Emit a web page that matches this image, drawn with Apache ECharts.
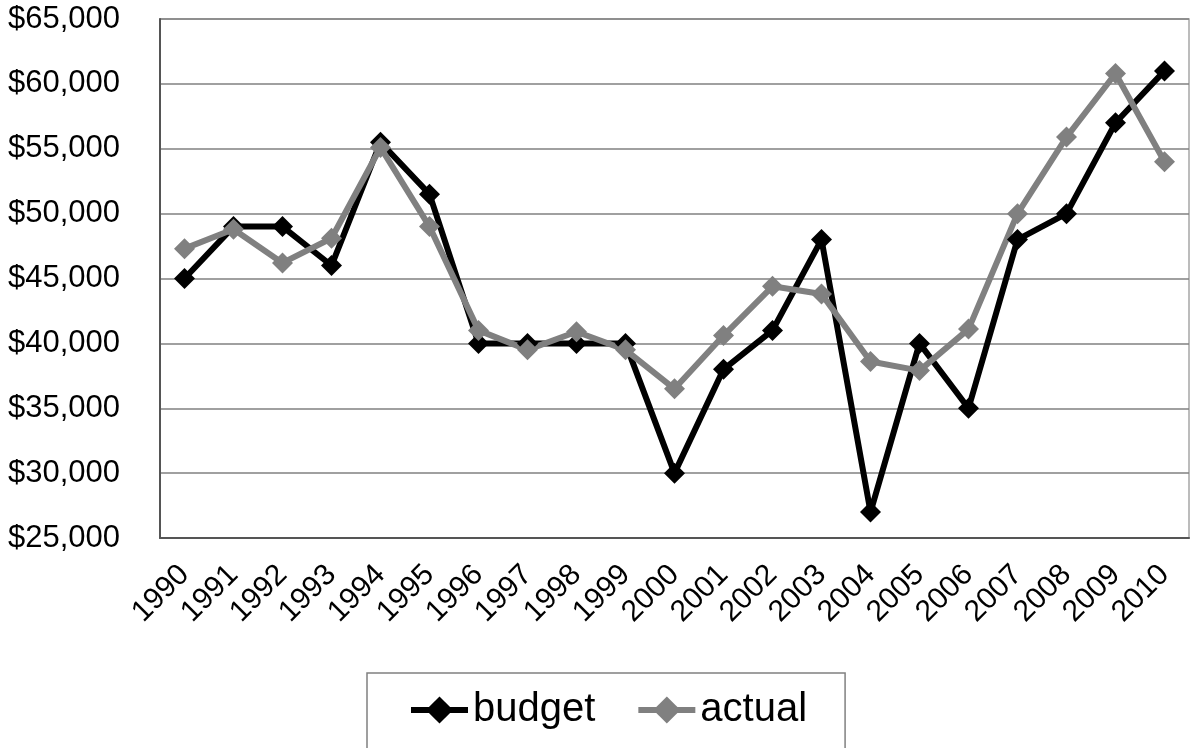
<!DOCTYPE html>
<html>
<head>
<meta charset="utf-8">
<script src="https://cdn.jsdelivr.net/npm/echarts@6/dist/echarts.min.js"></script>
<style>
html,body{margin:0;padding:0;background:#fff;}
#chart{width:1192px;height:748px;}
</style>
</head>
<body>
<div id="chart"></div>
<script>
const years = ['1990','1991','1992','1993','1994','1995','1996','1997','1998','1999','2000','2001','2002','2003','2004','2005','2006','2007','2008','2009','2010'];
const budget = [45000,49000,49000,46000,55500,51500,40000,40000,40000,40000,30000,38000,41000,48000,27000,40000,35000,48000,50000,57000,61000];
const actual = [47300,48800,46200,48100,55100,49000,41000,39500,40900,39500,36500,40600,44400,43800,38600,37900,41100,50000,55900,60800,54000];
const yMin = 25000, yMax = 65000, yStep = 5000;

const FONT = '"Liberation Sans", Arial, sans-serif';
const chart = echarts.init(document.getElementById('chart'));
chart.setOption({
  animation: false,
  backgroundColor: '#fff',
  textStyle: { fontFamily: FONT, color: '#000' },
  grid: { left: 160, right: 3, top: 19, bottom: 210, show: true, borderColor: '#a6a6a6', borderWidth: 1.5, backgroundColor: 'transparent' },
  xAxis: {
    type: 'category',
    data: years,
    boundaryGap: true,
    axisLine: { show: true, lineStyle: { color: '#555', width: 2 } },
    axisTick: { show: false },
    axisLabel: { rotate: 45, fontSize: 30, color: '#000', fontFamily: FONT, margin: 32, interval: 0 }
  },
  yAxis: {
    type: 'value',
    min: yMin, max: yMax, interval: yStep,
    axisLine: { show: true, lineStyle: { color: '#555', width: 2 } },
    axisTick: { show: false },
    splitLine: { show: true, lineStyle: { color: '#808080', width: 1.5 } },
    axisLabel: {
      fontSize: 31, color: '#000', fontFamily: FONT, margin: 40,
      formatter: v => '$' + v.toLocaleString('en-US')
    }
  },
  legend: {
    data: [
      { name: 'budget', lineStyle: { width: 6, color: '#000' }, itemStyle: { color: '#000' } },
      { name: 'actual', lineStyle: { width: 6, color: '#808080' }, itemStyle: { color: '#808080' } }
    ],
    left: 367, top: 673,
    itemWidth: 57, itemHeight: 34, itemGap: 40,
    padding: [17, 38, 40, 41],
    borderColor: '#808080', borderWidth: 1.5,
    textStyle: { fontSize: 40, color: '#000', fontFamily: FONT }
  },
  series: [
    {
      name: 'budget', type: 'line', data: budget,
      symbol: 'diamond', symbolSize: 21,
      lineStyle: { color: '#000', width: 6 },
      itemStyle: { color: '#000' }
    },
    {
      name: 'actual', type: 'line', data: actual,
      symbol: 'diamond', symbolSize: 21,
      lineStyle: { color: '#808080', width: 6 },
      itemStyle: { color: '#808080' }
    }
  ]
});
</script>
</body>
</html>
